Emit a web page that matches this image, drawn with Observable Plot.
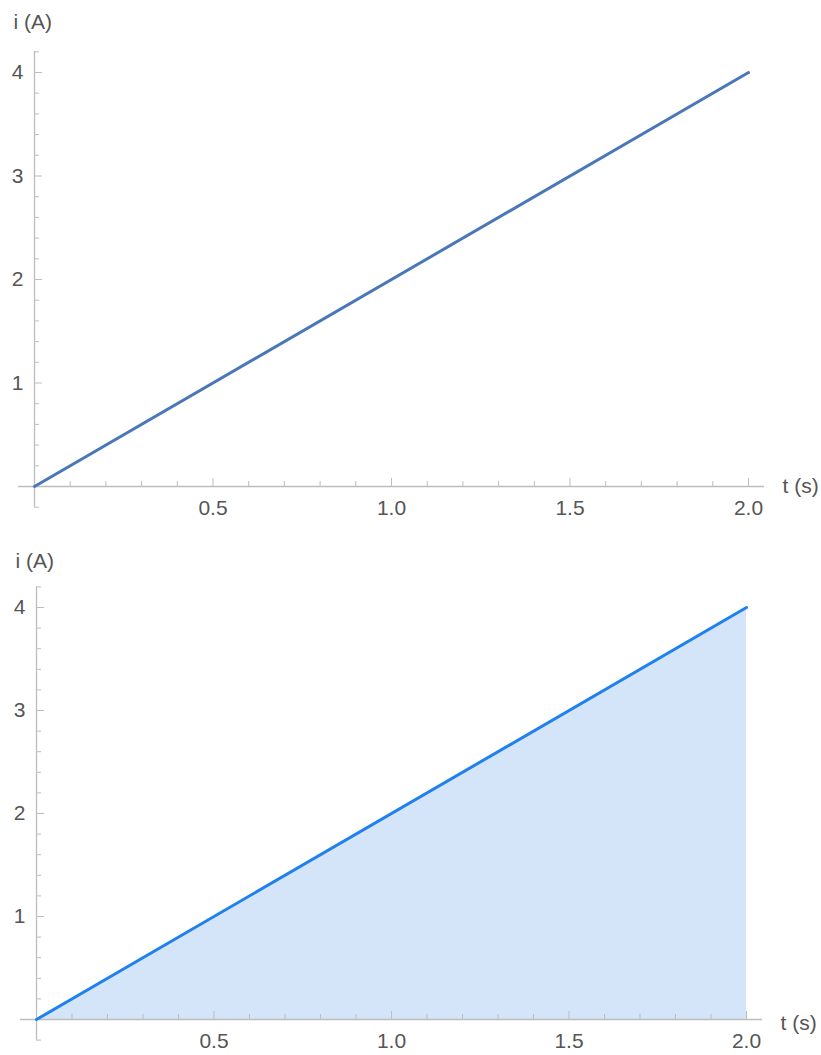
<!DOCTYPE html>
<html>
<head>
<meta charset="utf-8">
<script src="https://cdn.jsdelivr.net/npm/d3@7"></script>
<script src="https://cdn.jsdelivr.net/npm/@observablehq/plot@0.6"></script>
<style>
  html, body { margin: 0; padding: 0; background: #fff; }
  #wrap { width: 821px; }
  svg { display: block; }
</style>
</head>
<body>
<div id="wrap"></div>
<script>
// Data
const timeS = [0, 2.0];
const currentA = [0, 4];
const xMajorTicks = [0.5, 1.0, 1.5, 2.0];
const xMinorTicks = [0.1, 0.2, 0.3, 0.4, 0.6, 0.7, 0.8, 0.9, 1.1, 1.2, 1.3, 1.4, 1.6, 1.7, 1.8, 1.9];
const yMajorTicks = [1, 2, 3, 4];
const yMinorTicks = [-0.2, 0.2, 0.4, 0.6, 0.8, 1.2, 1.4, 1.6, 1.8, 2.2, 2.4, 2.6, 2.8, 3.2, 3.4, 3.6, 3.8, 4.2];
const xLabel = "t (s)";
const yLabel = "i (A)";

const rows = timeS.map((t, k) => ({t, i: currentA[k]}));

const AXIS = "#bdbdbd";
const TXT = "#555555";
const FONT = "Liberation Sans, Arial, sans-serif";
const FS = 21;

function makeChart({height, mt, mb, ml, mr, lineColor, fill, yLabDy, xLabDy}) {
  const marks = [];
  if (fill) marks.push(Plot.areaY(rows, {x: "t", y: "i", fill, fillOpacity: 1}));
  marks.push(
    // axis lines
    Plot.ruleY([0], {x1: -0.045, x2: 2.045, stroke: AXIS, strokeWidth: 1.3}),
    Plot.ruleX([0], {y1: -0.2, y2: 4.2, stroke: AXIS, strokeWidth: 1.3}),
    // x ticks (inward)
    Plot.axisX(xMinorTicks, {anchor: "bottom", tickSize: -5, tickFormat: () => "", stroke: AXIS}),
    Plot.axisX(xMajorTicks, {anchor: "bottom", tickSize: -8, tickPadding: 22, tickFormat: d3.format(".1f"),
      stroke: AXIS, fill: TXT, fontSize: FS, label: null}),
    // y ticks (inward)
    Plot.axisY(yMinorTicks, {anchor: "left", tickSize: -5, tickFormat: () => "", stroke: AXIS}),
    Plot.axisY(yMajorTicks, {anchor: "left", tickSize: -8, tickPadding: 19, tickFormat: d3.format("d"),
      stroke: AXIS, fill: TXT, fontSize: FS, label: null}),
    Plot.lineY(rows, {x: "t", y: "i", stroke: lineColor, strokeWidth: 3}),
    Plot.text([yLabel], {frameAnchor: "top-left", lineAnchor: "middle", dx: -21, dy: yLabDy, textAnchor: "start", fontSize: FS, fill: TXT}),
    Plot.text([xLabel], {frameAnchor: "bottom-right", lineAnchor: "middle", dx: 34, dy: xLabDy, textAnchor: "start", fontSize: FS, fill: TXT})
  );
  return Plot.plot({
    width: 821,
    height,
    marginTop: mt,
    marginBottom: mb,
    marginLeft: ml,
    marginRight: mr,
    x: {domain: [0, 2], label: null},
    y: {domain: [0, 4], label: null},
    style: {fontFamily: FONT, overflow: "visible", background: "#fff"},
    marks
  });
}

const wrap = document.getElementById("wrap");
wrap.appendChild(makeChart({height: 535, mt: 72, mb: 49, ml: 34, mr: 73, lineColor: "#4a77b7", yLabDy: -50, xLabDy: 0}));
wrap.appendChild(makeChart({height: 520, mt: 72, mb: 36, ml: 36, mr: 75, lineColor: "#1f80ee", fill: "#d4e5fa", yLabDy: -46, xLabDy: 4}));
</script>
</body>
</html>
